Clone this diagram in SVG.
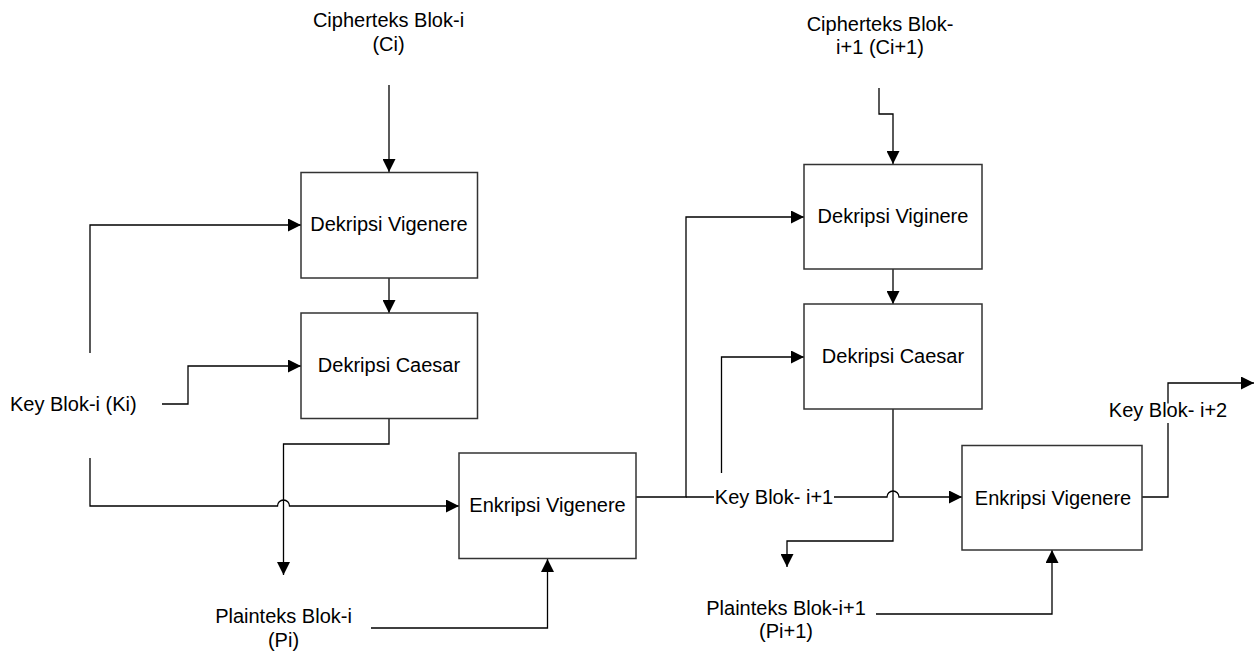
<svg xmlns="http://www.w3.org/2000/svg" width="1255" height="654" viewBox="0 0 1255 654">
<defs>
<marker id="ah" markerUnits="userSpaceOnUse" markerWidth="13" markerHeight="13" refX="13" refY="6.5" orient="auto"><path d="M0,0 L13,6.5 L0,13 z" fill="#000"/></marker>
<style>
text{font-family:"Liberation Sans",Arial,sans-serif;font-size:20px;fill:#000}
.c{text-anchor:middle}
.box{fill:#fff;stroke:#333;stroke-width:1.5}
.ln{fill:none;stroke:#000;stroke-width:1.3}
.ar{marker-end:url(#ah)}
</style>
</defs>
<rect width="1255" height="654" fill="#fff"/>
<g id="connectors">
<path class="ln ar" d="M389,85 V172"/>
<path class="ln ar" d="M389,278 V313"/>
<path class="ln ar" d="M90,353 V225 H301"/>
<path class="ln ar" d="M162,404 H188 V366 H301"/>
<path class="ln ar" d="M90,458 V506 H277.5 A6,6 0 0 1 289.5,506 H459"/>
<path class="ln ar" d="M389,418 V444 H283.5 V575"/>
<path class="ln ar" d="M371,628 H547.5 V559"/>
<path class="ln ar" d="M636,497 H686 V217 H804"/>
<path class="ln ar" d="M686,497 H887 A6,6 0 0 1 899,497 H962"/>
<path class="ln ar" d="M721.5,473 V357 H804"/>
<path class="ln ar" d="M879,88 V114 H893 V164"/>
<path class="ln ar" d="M893,269 V304"/>
<path class="ln ar" d="M893,409 V541 H787 V567"/>
<path class="ln ar" d="M876,614 H1052 V550"/>
<path class="ln ar" d="M1142,497 H1168 V383 H1254"/>
</g>
<g id="n1"><rect class="box" x="301" y="172.5" width="176.5" height="105.5"/><text class="c" x="389" y="231">Dekripsi Vigenere</text></g>
<g id="n2"><rect class="box" x="301" y="313" width="176.5" height="105.5"/><text class="c" x="389" y="372">Dekripsi Caesar</text></g>
<g id="n3"><rect class="box" x="459" y="453" width="177" height="105.5"/><text class="c" x="547.5" y="512">Enkripsi Vigenere</text></g>
<g id="n4"><rect class="box" x="804" y="164.5" width="178" height="104.5"/><text class="c" x="893" y="223">Dekripsi Viginere</text></g>
<g id="n5"><rect class="box" x="804" y="304" width="178" height="105"/><text class="c" x="893" y="363">Dekripsi Caesar</text></g>
<g id="n6"><rect class="box" x="962" y="445.5" width="180" height="104.5"/><text class="c" x="1053" y="505">Enkripsi Vigenere</text></g>
<g id="l-ci"><text class="c" x="388.5" y="27">Cipherteks Blok-i</text><text class="c" x="388.5" y="51">(Ci)</text></g>
<g id="l-ci1"><text class="c" x="880" y="31">Cipherteks Blok-</text><text class="c" x="880" y="54">i+1 (Ci+1)</text></g>
<g id="l-ki"><text x="10" y="411">Key Blok-i (Ki)</text></g>
<g id="l-pi"><text class="c" x="283.5" y="623">Plainteks Blok-i</text><text class="c" x="283.5" y="647">(Pi)</text></g>
<g id="l-pi1"><text class="c" x="786" y="615">Plainteks Blok-i+1</text><text class="c" x="786" y="638">(Pi+1)</text></g>
<g id="l-k1"><rect x="714" y="480" width="120" height="30" fill="#fff"/><text class="c" x="774" y="504">Key Blok- i+1</text></g>
<g id="l-k2"><rect x="1108" y="403.5" width="121" height="19.5" fill="#fff"/><text class="c" x="1168" y="417">Key Blok- i+2</text></g>
</svg>
